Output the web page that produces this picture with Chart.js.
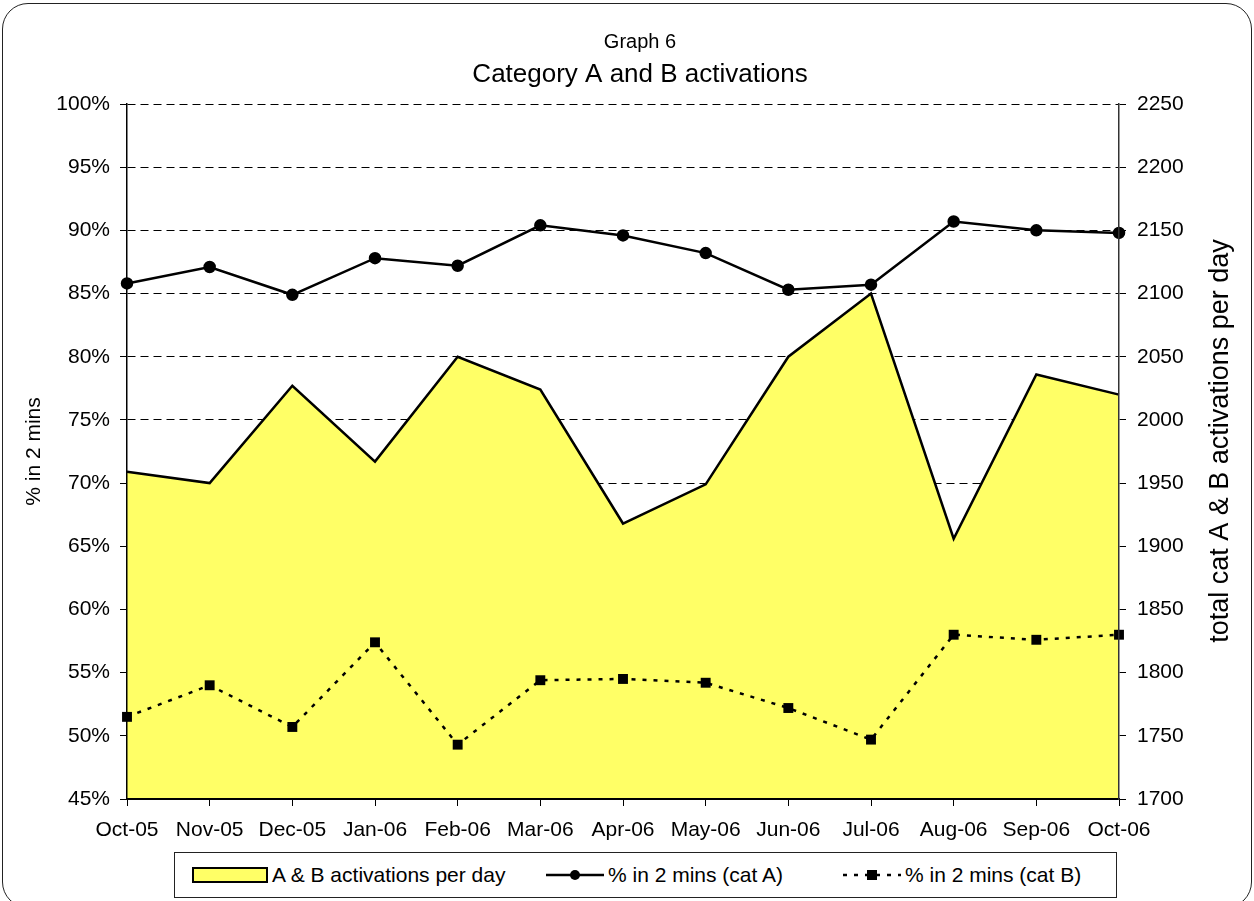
<!DOCTYPE html>
<html>
<head>
<meta charset="utf-8">
<script src="https://cdn.jsdelivr.net/npm/chart.js@4/dist/chart.umd.min.js"></script>
<style>
  html, body { margin: 0; padding: 0; background: #fff; }
  body { width: 1254px; height: 901px; position: relative; overflow: hidden; font-family: "Liberation Sans", Arial, sans-serif; }
  #frame { position: absolute; left: 2px; top: 3px; width: 1250px; height: 905px; box-sizing: border-box; border: 1.5px solid #222; border-radius: 26px; pointer-events: none; }
  #c { position: absolute; left: 0; top: 0; }
  #legend { position: absolute; left: 174px; top: 852px; width: 943px; height: 46px; box-sizing: border-box; border: 1px solid #222; background: #fff; }
  .item { position: absolute; top: 0; height: 44px; display: flex; align-items: center; font-size: 21px; color: #000; white-space: nowrap; }
  .item svg { display: block; margin-right: 4px; }
</style>
</head>
<body>
<canvas id="c" width="1254" height="901"></canvas>
<div id="frame"></div>
<div id="legend"></div>
<script>
const categories = ["Oct-05","Nov-05","Dec-05","Jan-06","Feb-06","Mar-06","Apr-06","May-06","Jun-06","Jul-06","Aug-06","Sep-06","Oct-06"];
const activationsPerDay = [1959, 1950, 2027, 1967, 2050, 2024, 1918, 1949, 2050, 2100, 1906, 2036, 2020];
const pctCatA = [85.8, 87.1, 84.9, 87.8, 87.2, 90.4, 89.6, 88.2, 85.3, 85.7, 90.7, 90.0, 89.8];
const pctCatB = [51.5, 54.0, 50.7, 57.4, 49.3, 54.4, 54.5, 54.2, 52.2, 49.7, 58.0, 57.6, 58.0];
const seriesNames = ["A & B activations per day", "% in 2 mins (cat A)", "% in 2 mins (cat B)"];
const titleText = "Graph 6";
const subtitleText = "Category A and B activations";
const leftAxisTitle = "% in 2 mins";
const rightAxisTitle = "total cat A & B activations per day";

const FONT = '"Liberation Sans", Arial, sans-serif';

const rightTitlePlugin = {
  id: 'rightTitle',
  afterDraw(chart) {
    const ctx = chart.ctx;
    ctx.save();
    ctx.translate(1221, 441);
    ctx.rotate(-Math.PI / 2);
    ctx.font = '27px ' + FONT;
    ctx.fillStyle = '#000';
    ctx.textAlign = 'center';
    ctx.textBaseline = 'middle';
    ctx.fillText(rightAxisTitle, 0, 0);
    ctx.restore();
  }
};

new Chart(document.getElementById('c'), {
  type: 'line',
  data: {
    labels: categories,
    datasets: [
      {
        label: seriesNames[1],
        data: pctCatA,
        yAxisID: 'y',
        borderColor: '#000',
        backgroundColor: '#000',
        borderWidth: 2.5,
        pointRadius: 5,
        pointStyle: 'circle',
        pointBackgroundColor: '#000',
        pointBorderColor: '#000',
        fill: false,
        tension: 0,
        order: 0
      },
      {
        label: seriesNames[2],
        data: pctCatB,
        yAxisID: 'y',
        borderColor: '#000',
        backgroundColor: '#000',
        borderWidth: 2.5,
        borderDash: [4, 7],
        pointRadius: 7,
        pointStyle: 'rect',
        pointBackgroundColor: '#000',
        pointBorderColor: '#000',
        pointBorderWidth: 0,
        fill: false,
        tension: 0,
        order: 1
      },
      {
        label: seriesNames[0],
        data: activationsPerDay,
        yAxisID: 'y1',
        borderColor: '#000',
        backgroundColor: '#FFFF66',
        borderWidth: 2.5,
        pointRadius: 0,
        fill: 'start',
        tension: 0,
        order: 2
      }
    ]
  },
  options: {
    responsive: false,
    devicePixelRatio: 1,
    animation: false,
    layout: { padding: { left: 26, right: 0, top: 0, bottom: 52 } },
    plugins: {
      legend: { display: false },
      tooltip: { enabled: false },
      title: {
        display: true,
        text: titleText,
        color: '#000',
        font: { family: FONT, size: 20, weight: 'normal', lineHeight: 1.2 },
        padding: { top: 30, bottom: 0 }
      },
      subtitle: {
        display: true,
        text: subtitleText,
        color: '#000',
        font: { family: FONT, size: 26, weight: 'normal', lineHeight: 1.2 },
        padding: { top: 5, bottom: 13.8 }
      }
    },
    scales: {
      x: {
        type: 'category',
        offset: false,
        afterFit(s) { s.height = 50; },
        grid: { display: true, drawOnChartArea: false, drawTicks: true, tickLength: 7, tickColor: '#000', tickWidth: 1, offset: false },
        border: { display: true, color: '#000', width: 2, z: 1 },
        ticks: { color: '#000', font: { family: FONT, size: 21 }, padding: 12, autoSkip: false, maxRotation: 0, minRotation: 0 }
      },
      y: {
        position: 'left',
        min: 45, max: 100,
        afterFit(s) { s.width = 101; },
        grid: { display: true, drawOnChartArea: true, color: '#000', lineWidth: 1, tickLength: 7, tickColor: '#000', tickWidth: 1 },
        border: { display: true, color: '#000', width: 1.5, dash: [8, 5], z: 1 },
        ticks: { stepSize: 5, color: '#000', font: { family: FONT, size: 21 }, padding: 10, callback: v => v + '%' },
        title: { display: true, text: leftAxisTitle, color: '#000', font: { family: FONT, size: 21 }, padding: { top: -4, bottom: 0 } }
      },
      y1: {
        position: 'right',
        min: 1700, max: 2250,
        afterFit(s) { s.width = 135; },
        grid: { display: true, drawOnChartArea: false, tickLength: 7, tickColor: '#000', tickWidth: 1 },
        border: { display: true, color: '#333', width: 1.5, z: 1 },
        ticks: { stepSize: 50, color: '#000', font: { family: FONT, size: 21 }, padding: 11, callback: v => String(v) }
      }
    }
  },
  plugins: [rightTitlePlugin]
});

// HTML legend
const legend = document.getElementById('legend');
const itemDefs = [
  { left: 17, svg: '<svg width="76" height="16"><rect x="1" y="1" width="74" height="14" fill="#FFFF66" stroke="#000" stroke-width="2"/></svg>' },
  { left: 371, svg: '<svg width="58" height="16"><line x1="0" y1="8" x2="58" y2="8" stroke="#000" stroke-width="2.5"/><circle cx="29" cy="8" r="5" fill="#000"/></svg>' },
  { left: 668, svg: '<svg width="58" height="16"><line x1="0" y1="8" x2="58" y2="8" stroke="#000" stroke-width="2.5" stroke-dasharray="4 7"/><rect x="24" y="3" width="10" height="10" fill="#000"/></svg>' }
];
itemDefs.forEach((d, i) => {
  const el = document.createElement('div');
  el.className = 'item';
  el.style.left = d.left + 'px';
  el.innerHTML = d.svg;
  const span = document.createElement('span');
  span.textContent = seriesNames[i];
  el.appendChild(span);
  legend.appendChild(el);
});
</script>
</body>
</html>
